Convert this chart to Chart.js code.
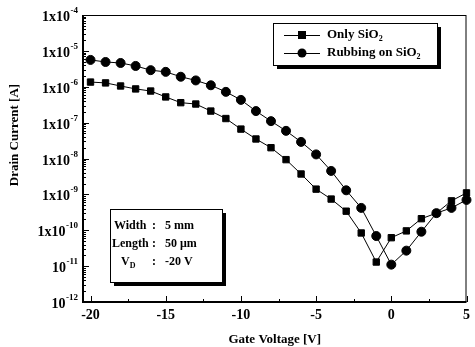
<!DOCTYPE html>
<html><head><meta charset="utf-8">
<script src="https://cdn.jsdelivr.net/npm/chart.js@4.4.1/dist/chart.umd.min.js"></script>
<style>html,body{margin:0;padding:0;background:#fff}#wrap{width:475px;height:347px}</style>
</head><body><div id="wrap"><canvas id="c" width="475" height="347"></canvas></div>
<script>
const gateVoltage = [-20,-19,-18,-17,-16,-15,-14,-13,-12,-11,-10,-9,-8,-7,-6,-5,-4,-3,-2,-1,0,1,2,3,4,5];
const onlySiO2 = [1.35e-6,1.28e-6,1.05e-6,8.7e-7,7.6e-7,5.2e-7,3.6e-7,3.3e-7,2.1e-7,1.3e-7,6.6e-8,3.5e-8,2.0e-8,9.3e-9,3.7e-9,1.4e-9,7.4e-10,3.4e-10,8.4e-11,1.3e-11,6.2e-11,9.6e-11,2.1e-10,3.0e-10,6.6e-10,1.1e-9];
const rubbingSiO2 = [5.6e-6,4.9e-6,4.6e-6,3.8e-6,2.9e-6,2.6e-6,1.9e-6,1.5e-6,1.1e-6,7.2e-7,4.3e-7,2.1e-7,1.1e-7,5.9e-8,2.9e-8,1.3e-8,4.5e-9,1.3e-9,4.2e-10,6.9e-11,1.1e-11,2.7e-11,9.1e-11,3.0e-10,4.2e-10,7.0e-10];
const xTickValues = [-20,-15,-10,-5,0,5];
const xTickLabels = ['-20','-15','-10','-5','0','5'];
const xMinorTicks = [-17.5,-12.5,-7.5,-2.5,2.5];
const yTickValues = [1e-12,1e-11,1e-10,1e-9,1e-8,1e-7,1e-6,1e-5,1e-4];
const yTickBase = ['10','10','1x10','1x10','1x10','1x10','1x10','1x10','1x10'];
const yTickExp = ['-12','-11','-10','-9','-8','-7','-6','-5','-4'];
const seriesNames = [['Only SiO','2'],['Rubbing on SiO','2']];
const xTitle = 'Gate Voltage [V]';
const yTitle = 'Drain Current [A]';
const infoLabels = ['Width','Length','V'];
const infoValues = ['5 mm','50 \u03BCm','-20 V'];

const FONT = '"Liberation Serif","Times New Roman",serif';

const decor = {
  id: 'decor',
  afterDraw(chart) {
    const ctx = chart.ctx;
    const a = chart.chartArea;
    const xs = chart.scales.x, ys = chart.scales.y;
    ctx.save();
    ctx.strokeStyle = '#000';
    ctx.fillStyle = '#000';
    // frame
    ctx.lineWidth = 1;
    ctx.strokeRect(a.left + 0.5, a.top + 0.5, a.right - a.left - 1, a.bottom - a.top - 1);
    ctx.lineWidth = 2;
    ctx.beginPath();
    ctx.moveTo(a.left, a.top); ctx.lineTo(a.left, a.bottom); ctx.lineTo(a.right, a.bottom);
    ctx.stroke();
    // y ticks and labels
    ctx.lineWidth = 1;
    yTickValues.forEach((v, k) => {
      const e = Math.round(Math.log10(v));
      const y = Math.round(ys.getPixelForValue(v)) + 0.5;
      ctx.beginPath(); ctx.moveTo(a.left, y); ctx.lineTo(a.left + 6, y); ctx.stroke();
      if (k < yTickValues.length - 1) {
        for (let m = 2; m <= 9; m++) {
          const ym = Math.round(ys.getPixelForValue(m * Math.pow(10, e))) + 0.5;
          ctx.beginPath(); ctx.moveTo(a.left, ym); ctx.lineTo(a.left + 3, ym); ctx.stroke();
        }
      }
      // label
      ctx.textBaseline = 'alphabetic';
      ctx.textAlign = 'right';
      ctx.font = 'bold 9px ' + FONT;
      const ew = ctx.measureText(yTickExp[k]).width;
      const rx = a.left - 5;
      ctx.fillText(yTickExp[k], rx, y - 3);
      ctx.font = 'bold 14px ' + FONT;
      ctx.fillText(yTickBase[k], rx - ew - 0.5, y + 5);
    });
    // x ticks
    xTickValues.forEach(v => {
      const x = Math.round(xs.getPixelForValue(v)) + 0.5;
      ctx.beginPath(); ctx.moveTo(x, a.bottom); ctx.lineTo(x, a.bottom - 6); ctx.stroke();
    });
    xMinorTicks.forEach(v => {
      const x = Math.round(xs.getPixelForValue(v)) + 0.5;
      ctx.beginPath(); ctx.moveTo(x, a.bottom); ctx.lineTo(x, a.bottom - 3); ctx.stroke();
    });
    // y title
    ctx.font = 'bold 13px ' + FONT;
    ctx.textAlign = 'center'; ctx.textBaseline = 'middle';
    ctx.save();
    ctx.translate(15, 135);
    ctx.rotate(-Math.PI / 2);
    ctx.fillText(yTitle, 0, 0);
    ctx.restore();

    // legend box
    const lx = 273, ly = 23, lw = 164, lh = 42;
    ctx.fillRect(lx + 4, ly + 4, lw, lh);
    ctx.fillStyle = '#fff';
    ctx.fillRect(lx, ly, lw, lh);
    ctx.fillStyle = '#000';
    ctx.lineWidth = 1;
    ctx.strokeRect(lx + 0.5, ly + 0.5, lw, lh);
    const rows = [35, 53];
    rows.forEach((ry, i) => {
      ctx.beginPath(); ctx.moveTo(284, ry + 0.5); ctx.lineTo(320, ry + 0.5); ctx.stroke();
      if (i === 0) { ctx.fillRect(298, ry - 4, 8, 8); }
      else { ctx.beginPath(); ctx.arc(302, ry, 4.5, 0, Math.PI * 2); ctx.fill(); }
      ctx.font = 'bold 13px ' + FONT;
      ctx.textAlign = 'left'; ctx.textBaseline = 'middle';
      ctx.fillText(seriesNames[i][0], 327, ry);
      const w = ctx.measureText(seriesNames[i][0]).width;
      ctx.font = 'bold 8px ' + FONT;
      ctx.fillText(seriesNames[i][1], 327 + w, ry + 4);
    });

    // info box
    const bx = 110, by = 209, bw = 112, bh = 73;
    ctx.fillRect(bx + 4, by + 4, bw, bh);
    ctx.fillStyle = '#fff';
    ctx.fillRect(bx, by, bw, bh);
    ctx.fillStyle = '#000';
    ctx.strokeRect(bx + 0.5, by + 0.5, bw, bh);
    const iy = [226, 244, 262];
    const ix = [114, 112, 121];
    ctx.textAlign = 'left'; ctx.textBaseline = 'middle';
    for (let i = 0; i < 3; i++) {
      ctx.font = 'bold 12px ' + FONT;
      ctx.fillText(infoLabels[i], ix[i], iy[i]);
      if (i === 2) {
        const w = ctx.measureText('V').width;
        ctx.font = 'bold 8px ' + FONT;
        ctx.fillText('D', ix[i] + w, iy[i] + 4);
        ctx.font = 'bold 12px ' + FONT;
      }
      ctx.fillText(':', 152, iy[i]);
      ctx.fillText(infoValues[i], 165, iy[i]);
    }
    ctx.restore();
  }
};

new Chart(document.getElementById('c'), {
  type: 'line',
  data: {
    labels: gateVoltage,
    datasets: [
      {
        label: 'Only SiO2',
        data: gateVoltage.map((v, i) => ({x: v, y: onlySiO2[i]})),
        borderColor: '#000', backgroundColor: '#000', borderWidth: 1,
        pointStyle: 'rect', pointRadius: 4.5, pointHoverRadius: 4.5, tension: 0, clip: false
      },
      {
        label: 'Rubbing on SiO2',
        data: gateVoltage.map((v, i) => ({x: v, y: rubbingSiO2[i]})),
        borderColor: '#000', backgroundColor: '#000', borderWidth: 1,
        pointStyle: 'circle', pointRadius: 4.5, pointHoverRadius: 4.5, tension: 0, clip: false
      }
    ]
  },
  options: {
    responsive: false,
    animation: false,
    events: [],
    layout: { padding: { top: 15, right: 4, left: 0, bottom: 0 } },
    plugins: {
      legend: { display: false },
      tooltip: { enabled: false }
    },
    scales: {
      x: {
        type: 'linear', min: -20.5, max: 5,
        afterBuildTicks: s => { s.ticks = xTickValues.map(v => ({value: v})); },
        afterFit: s => { s.height = 45; },
        grid: { display: false, drawTicks: false },
        border: { display: false },
        ticks: {
          color: '#000', padding: 5, maxRotation: 0,
          font: { family: FONT, size: 14, weight: 'bold' },
          callback: (v) => { const i = xTickValues.indexOf(v); return i >= 0 ? xTickLabels[i] : ''; }
        },
        title: {
          display: true, text: xTitle, color: '#000',
          font: { family: FONT, size: 13, weight: 'bold' },
          padding: { top: 4, bottom: 0 }
        }
      },
      y: {
        type: 'logarithmic', min: 1e-12, max: 1e-4,
        afterBuildTicks: s => { s.ticks = yTickValues.map(v => ({value: v})); },
        afterFit: s => { s.width = 83; },
        grid: { display: false, drawTicks: false },
        border: { display: false },
        ticks: { display: false }
      }
    }
  },
  plugins: [decor]
});
</script>
</body></html>
